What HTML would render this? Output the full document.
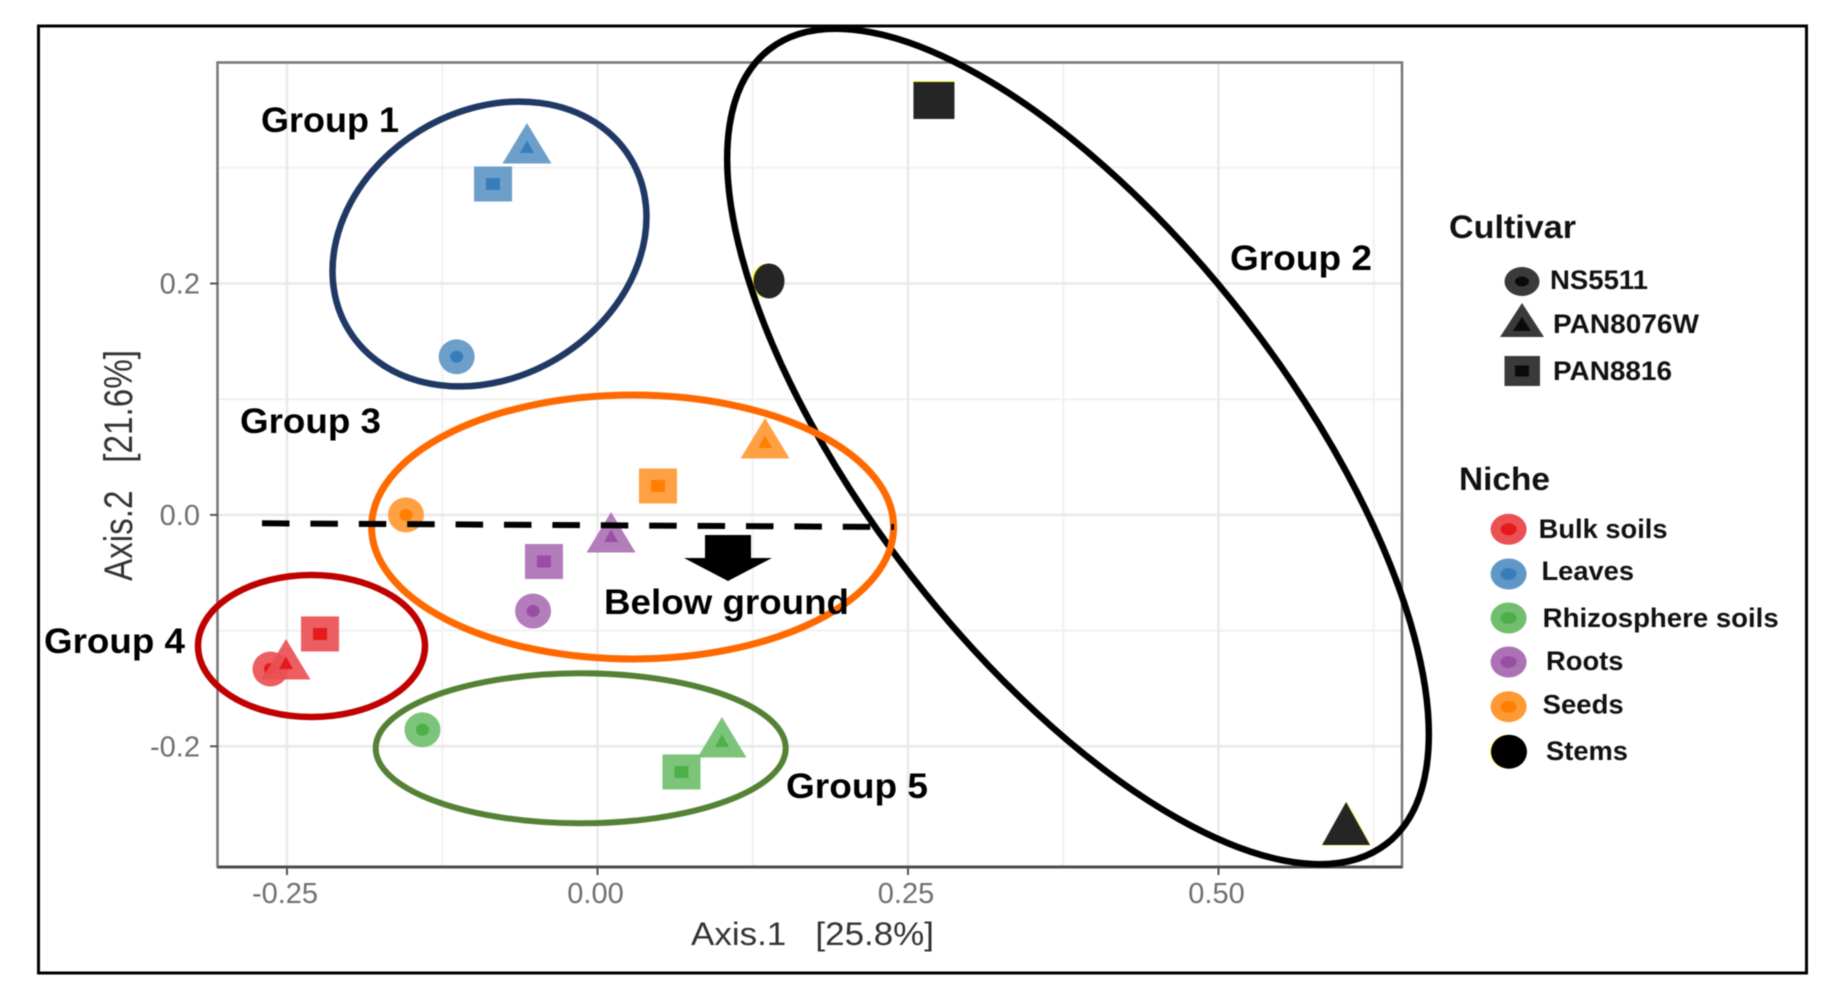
<!DOCTYPE html>
<html lang="en">
<head>
<meta charset="utf-8">
<title>PCoA ordination by cultivar and niche</title>
<style>
  html, body { margin: 0; padding: 0; background: #fff; }
  body { width: 1848px; height: 1001px; overflow: hidden; }
  svg { display: block; font-family: "Liberation Sans", sans-serif; }
  .group-label { font-weight: bold; font-size: 35px; fill: #000; }
  .legend-title { font-weight: bold; font-size: 32px; fill: #111; }
  .legend-label { font-weight: bold; font-size: 27px; fill: #111; }
  .tick-label { font-size: 29px; fill: #6f6f6f; }
  .axis-title { font-size: 32px; fill: #333; }
  .axis-title-y { font-size: 40px; fill: #333; }
</style>
</head>
<body>
<svg id="chart" width="1848" height="1001" viewBox="0 0 1848 1001" xmlns="http://www.w3.org/2000/svg">
  <rect x="0" y="0" width="1848" height="1001" fill="#fff"/>
  <g id="soft" style="filter:blur(0.6px)">
    <rect x="38.5" y="26" width="1768" height="947" fill="none" stroke="#000" stroke-width="3"/>
    <g id="grid"></g>
    <rect x="217.5" y="62.5" width="1184.5" height="804.5" fill="none" stroke="#777" stroke-width="2.5"/>
    <g id="axes"></g>
    <g id="points"></g>

    <ellipse cx="489.5" cy="244" rx="165" ry="133" transform="rotate(-31.4 489.5 244)" fill="none" stroke="#1f3864" stroke-width="6.5"/>
    <ellipse cx="1078" cy="446.5" rx="503" ry="211" transform="rotate(52.14 1078 446.5)" fill="none" stroke="#000" stroke-width="6.5"/>
    <ellipse cx="632.6" cy="527" rx="261" ry="132" fill="none" stroke="#ff6a00" stroke-width="7"/>
    <ellipse cx="311.5" cy="646" rx="113.5" ry="71" fill="none" stroke="#c00000" stroke-width="6.5"/>
    <ellipse cx="580.7" cy="748.3" rx="205" ry="75" fill="none" stroke="#548235" stroke-width="6"/>

    <line x1="262" y1="523.3" x2="894" y2="527" stroke="#000" stroke-width="6" stroke-dasharray="27.5 20.9"/>
    <polygon points="705,535 751,535 751,558 772,558 728,581 684,558 705,558" fill="#000"/>

    <text class="group-label" x="261" y="132" textLength="138" lengthAdjust="spacingAndGlyphs">Group 1</text>
    <text class="group-label" x="1230" y="270" textLength="142" lengthAdjust="spacingAndGlyphs">Group 2</text>
    <text class="group-label" x="240" y="433" textLength="141" lengthAdjust="spacingAndGlyphs">Group 3</text>
    <text class="group-label" x="44" y="653" textLength="141" lengthAdjust="spacingAndGlyphs">Group 4</text>
    <text class="group-label" x="786" y="798" textLength="142" lengthAdjust="spacingAndGlyphs">Group 5</text>
    <text class="group-label" x="604" y="614" textLength="245" lengthAdjust="spacingAndGlyphs">Below ground</text>

    <text class="axis-title" x="691" y="945" textLength="243" lengthAdjust="spacingAndGlyphs" xml:space="preserve">Axis.1   [25.8%]</text>
    <text class="axis-title-y" transform="translate(132 581) rotate(-90)" x="0" y="0" textLength="231" lengthAdjust="spacingAndGlyphs" xml:space="preserve">Axis.2   [21.6%]</text>

    <g>
      <text class="legend-title" x="1449" y="238" textLength="127" lengthAdjust="spacingAndGlyphs">Cultivar</text>
      <g>
        <ellipse cx="1522" cy="281.5" rx="17.5" ry="14.5" fill="#3a3a3a"/>
        <ellipse cx="1522" cy="281.5" rx="7" ry="5" fill="#0a0a0a"/>
        <text class="legend-label" x="1550" y="289" textLength="98" lengthAdjust="spacingAndGlyphs">NS5511</text>
      </g>
      <g>
        <polygon points="1522,303 1544,337 1500,337" fill="#3a3a3a"/>
        <polygon points="1522,317 1531,331 1513,331" fill="#0a0a0a"/>
        <text class="legend-label" x="1553" y="333" textLength="146" lengthAdjust="spacingAndGlyphs">PAN8076W</text>
      </g>
      <g>
        <rect x="1504.5" y="356" width="35.5" height="30" fill="#3a3a3a"/>
        <rect x="1515" y="365.5" width="14" height="11" fill="#0a0a0a"/>
        <text class="legend-label" x="1553" y="380" textLength="119" lengthAdjust="spacingAndGlyphs">PAN8816</text>
      </g>
    </g>

    <g>
      <text class="legend-title" x="1459" y="490" textLength="91" lengthAdjust="spacingAndGlyphs">Niche</text>
      <g>
        <ellipse cx="1508.6" cy="529.3" rx="18" ry="15.5" fill="#ea5054"/>
        <ellipse cx="1508.6" cy="529.3" rx="8" ry="6" fill="#e41a1c"/>
        <text class="legend-label" x="1538.6" y="538" textLength="129" lengthAdjust="spacingAndGlyphs">Bulk soils</text>
      </g>
      <g>
        <ellipse cx="1508.6" cy="574" rx="18" ry="15.5" fill="#5f97c6"/>
        <ellipse cx="1508.6" cy="574" rx="8" ry="6" fill="#377eb8"/>
        <text class="legend-label" x="1541.5" y="580" textLength="92.5" lengthAdjust="spacingAndGlyphs">Leaves</text>
      </g>
      <g>
        <ellipse cx="1508.6" cy="618" rx="18" ry="15.5" fill="#71bf6e"/>
        <ellipse cx="1508.6" cy="618" rx="8" ry="6" fill="#4daf4a"/>
        <text class="legend-label" x="1542.7" y="627" textLength="236" lengthAdjust="spacingAndGlyphs">Rhizosphere soils</text>
      </g>
      <g>
        <ellipse cx="1508.6" cy="662" rx="18" ry="15.5" fill="#ad71b5"/>
        <ellipse cx="1508.6" cy="662" rx="8" ry="6" fill="#984ea3"/>
        <text class="legend-label" x="1546" y="670" textLength="77.5" lengthAdjust="spacingAndGlyphs">Roots</text>
      </g>
      <g>
        <ellipse cx="1508.6" cy="706.7" rx="18" ry="15.5" fill="#ff9933"/>
        <ellipse cx="1508.6" cy="706.7" rx="8" ry="6" fill="#ff7f00"/>
        <text class="legend-label" x="1542.7" y="713.5" textLength="81" lengthAdjust="spacingAndGlyphs">Seeds</text>
      </g>
      <g>
        <ellipse cx="1508" cy="751.7" rx="18" ry="17" fill="#ffff33"/>
        <ellipse cx="1509" cy="751.7" rx="18" ry="17" fill="#000"/>
        <text class="legend-label" x="1546" y="760" textLength="82" lengthAdjust="spacingAndGlyphs">Stems</text>
      </g>
    </g>
  </g>
</svg>
<script>
// ---- chart data ----
var xMajorTicks = [-0.25, 0, 0.25, 0.5];
var xMinorTicks = [-0.125, 0.125, 0.375, 0.625];
var yMajorTicks = [-0.2, 0, 0.2];
var yMinorTicks = [-0.1, 0.1, 0.3];
var xTickLabels = ["-0.25", "0.00", "0.25", "0.50"];
var yTickLabels = ["-0.2", "0.0", "0.2"];
var sampleNiche = ["leaves", "leaves", "leaves", "stems", "stems", "stems", "seeds", "seeds", "seeds", "roots", "roots", "roots", "bulk-soils", "bulk-soils", "bulk-soils", "rhizosphere-soils", "rhizosphere-soils", "rhizosphere-soils"];
var sampleCultivar = ["NS5511", "PAN8076W", "PAN8816", "NS5511", "PAN8076W", "PAN8816", "NS5511", "PAN8076W", "PAN8816", "NS5511", "PAN8076W", "PAN8816", "NS5511", "PAN8076W", "PAN8816", "NS5511", "PAN8076W", "PAN8816"];
var axis1Values = [-0.1134, -0.0568, -0.0841, 0.1381, 0.6027, 0.2709, -0.1542, 0.1349, 0.0487, -0.0519, 0.0109, -0.0431, -0.2633, -0.2508, -0.2234, -0.1409, 0.1002, 0.0676];
var axis2Values = [0.1367, 0.3171, 0.2860, 0.2022, -0.2723, 0.3582, 0.0, 0.0621, 0.0250, -0.0831, -0.0191, -0.0403, -0.1332, -0.1289, -0.1029, -0.1857, -0.1963, -0.2222];
var nicheOuter = { "leaves": "#5f97c6", "stems": "#252525", "seeds": "#ff9933", "roots": "#ad71b5", "bulk-soils": "#ea5054", "rhizosphere-soils": "#71bf6e" };
var nicheInner = { "leaves": "#377eb8", "stems": "#252525", "seeds": "#ff7f00", "roots": "#984ea3", "bulk-soils": "#e41a1c", "rhizosphere-soils": "#4daf4a" };

// ---- axis functions ----
function xScale(v) { return 597.5 + 1242 * v; }
function yScale(v) { return 514.9 - 1157 * v; }

var NS = "http://www.w3.org/2000/svg";
function mk(parent, tag, attrs) {
  var el = document.createElementNS(NS, tag);
  for (var k in attrs) { el.setAttribute(k, attrs[k]); }
  parent.appendChild(el);
  return el;
}

var gridG = document.getElementById("grid");
var axesG = document.getElementById("axes");
var pointsG = document.getElementById("points");
var panel = { left: 218, right: 1402, top: 62, bottom: 867 };

xMinorTicks.forEach(function (t) {
  var l = mk(gridG, "line", { x1: xScale(t), x2: xScale(t), y1: panel.top, y2: panel.bottom, stroke: "#f1f1f1", "stroke-width": 2 });
  
  
});
yMinorTicks.forEach(function (t) {
  var l = mk(gridG, "line", { x1: panel.left, x2: panel.right, y1: yScale(t), y2: yScale(t), stroke: "#f1f1f1", "stroke-width": 2 });
  
  
});
xMajorTicks.forEach(function (t, i) {
  var l = mk(gridG, "line", { x1: xScale(t), x2: xScale(t), y1: panel.top, y2: panel.bottom, stroke: "#e9e9e9", "stroke-width": 2.5 });
  
  
  var m = mk(axesG, "line", { x1: xScale(t), x2: xScale(t), y1: panel.bottom, y2: panel.bottom + 8, stroke: "#555", "stroke-width": 2 });
  
  
  var lab = mk(axesG, "text", { x: xScale(t) - 2, y: 903, "text-anchor": "middle", "class": "tick-label" });
  
  
  lab.textContent = xTickLabels[i];
});
yMajorTicks.forEach(function (t, i) {
  var l = mk(gridG, "line", { x1: panel.left, x2: panel.right, y1: yScale(t), y2: yScale(t), stroke: "#e9e9e9", "stroke-width": 2.5 });
  
  
  var m = mk(axesG, "line", { x1: panel.left - 8, x2: panel.left, y1: yScale(t), y2: yScale(t), stroke: "#555", "stroke-width": 2 });
  
  
  var lab = mk(axesG, "text", { x: 200, y: yScale(t) + 10, "text-anchor": "end", "class": "tick-label" });
  
  
  lab.textContent = yTickLabels[i];
});
var baseAxis = mk(axesG, "line", { x1: panel.left, x2: panel.right, y1: panel.bottom, y2: panel.bottom, stroke: "#4d4d4d", "stroke-width": 3 });



function triPoints(cx, cy, hw, up, down) {
  return cx + "," + (cy - up) + " " + (cx + hw) + "," + (cy + down) + " " + (cx - hw) + "," + (cy + down);
}

axis1Values.forEach(function (xv, i) {
  var cx = xScale(xv);
  var cy = yScale(axis2Values[i]);
  var niche = sampleNiche[i];
  var cultivar = sampleCultivar[i];
  var outer = nicheOuter[niche];
  var inner = nicheInner[niche];
  var isStem = niche === "stems";
  var g = mk(pointsG, "g", {});
  
  
  if (cultivar === "NS5511") {
    if (isStem) {
      mk(g, "ellipse", { cx: cx - 1.5, cy: cy, rx: 16, ry: 17.5, fill: "#ffff33" });
      mk(g, "ellipse", { cx: cx, cy: cy, rx: 15.5, ry: 17.5, fill: outer });
    } else {
      mk(g, "ellipse", { cx: cx, cy: cy, rx: 18, ry: 17.5, fill: outer, "fill-opacity": 0.92 });
      mk(g, "ellipse", { cx: cx, cy: cy, rx: 6.5, ry: 6, fill: inner });
    }
  } else if (cultivar === "PAN8076W") {
    if (isStem) {
      mk(g, "polygon", { points: triPoints(cx + 1, cy, 24, 28, 15.5), fill: "#ffff33" });
      mk(g, "polygon", { points: triPoints(cx, cy, 24, 28, 15), fill: outer });
    } else {
      mk(g, "polygon", { points: triPoints(cx, cy, 24.5, 25, 15.5), fill: outer, "fill-opacity": 0.92 });
      mk(g, "polygon", { points: triPoints(cx, cy, 7, 7.5, 5), fill: inner });
    }
  } else {
    if (isStem) {
      mk(g, "rect", { x: cx - 20.5, y: cy - 19.5, width: 41, height: 38, fill: "#ffff33" });
      mk(g, "rect", { x: cx - 20.5, y: cy - 18.5, width: 41, height: 37, fill: outer });
    } else {
      mk(g, "rect", { x: cx - 19, y: cy - 17.5, width: 38, height: 35, fill: outer, "fill-opacity": 0.92 });
      mk(g, "rect", { x: cx - 7, y: cy - 6, width: 14, height: 12, fill: inner });
    }
  }
});
</script>
</body>
</html>
